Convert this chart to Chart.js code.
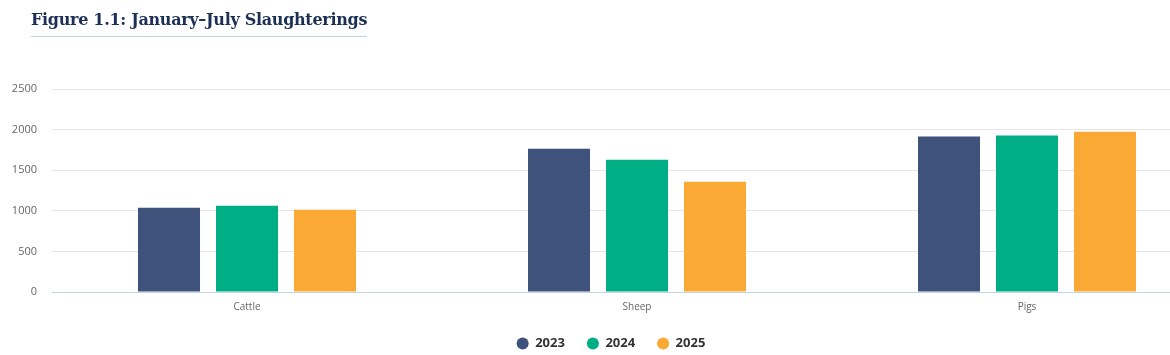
<!DOCTYPE html>
<html>
<head>
<meta charset="utf-8">
<script src="https://cdn.jsdelivr.net/npm/chart.js@4"></script>
<style>
  html, body { margin: 0; padding: 0; background: #fff; overflow: hidden; width: 1170px; height: 355px; }
  #title { position: absolute; left: 31px; top: 10px; font-family: "DejaVu Serif", "Liberation Serif", serif; font-weight: bold; font-size: 16px; color: #1c2f55; padding-bottom: 7px; border-bottom: 1px solid #c3d3e3; letter-spacing: -0.3px; }
  #wrap { position: absolute; left: 0; top: 0; width: 1224px; height: 355px; }
</style>
</head>
<body>
<div id="wrap"><canvas id="c"></canvas></div>
<div id="title">Figure 1.1: January–July Slaughterings</div>
<script>
const categories = ["Cattle", "Sheep", "Pigs"];
const seriesNames = ["2023", "2024", "2025"];
const values2023 = [1037, 1765, 1914];
const values2024 = [1062, 1630, 1926];
const values2025 = [1012, 1358, 1975];
const yTicks = [0, 500, 1000, 1500, 2000, 2500];
const colors = ["#3f527c", "#00ae86", "#f9a934"];

const seriesValues = [values2023, values2024, values2025];

new Chart(document.getElementById("c"), {
  type: "bar",
  data: {
    labels: categories,
    datasets: seriesNames.map((n, i) => ({
      label: n,
      data: seriesValues[i],
      backgroundColor: colors[i],
      borderWidth: 0,
      categoryPercentage: 0.6,
      barPercentage: 0.795
    }))
  },
  options: {
    responsive: true,
    maintainAspectRatio: false,
    animation: false,
    layout: { padding: { top: 89, right: 2, left: 0, bottom: 0 } },
    plugins: {
      title: { display: false },
      tooltip: { enabled: false },
      legend: {
        position: "bottom",
        maxHeight: 40,
        labels: {
          usePointStyle: true,
          pointStyle: "circle",
          boxWidth: 12,
          boxHeight: 8.5,
          padding: 22,
          color: "#333333",
          font: { family: "'Open Sans', 'DejaVu Sans', sans-serif", size: 13, weight: "bold" }
        }
      }
    },
    scales: {
      x: {
        afterFit: (s) => { s.height = s.height - 7; },
        grid: { display: false, drawTicks: false },
        border: { display: true, color: "#c4d2e6", width: 1, z: 1 },
        ticks: { color: "#666666", padding: 9, font: { family: "'Open Sans', 'DejaVu Sans', sans-serif", size: 10 } }
      },
      y: {
        min: 0,
        max: 2500,
        afterBuildTicks: (s) => { s.ticks = yTicks.map(v => ({ value: v })); },
        afterFit: (s) => { s.width = 52; },
        grid: { color: (ctx) => (ctx.tick && ctx.tick.value === 0 ? "rgba(0,0,0,0)" : "#e6e6e6"), drawTicks: false },
        border: { display: false },
        ticks: { color: "#666666", padding: 15, callback: (v) => String(v), font: { family: "'Open Sans', 'DejaVu Sans', sans-serif", size: 11 } }
      }
    }
  }
});
</script>
</body>
</html>
